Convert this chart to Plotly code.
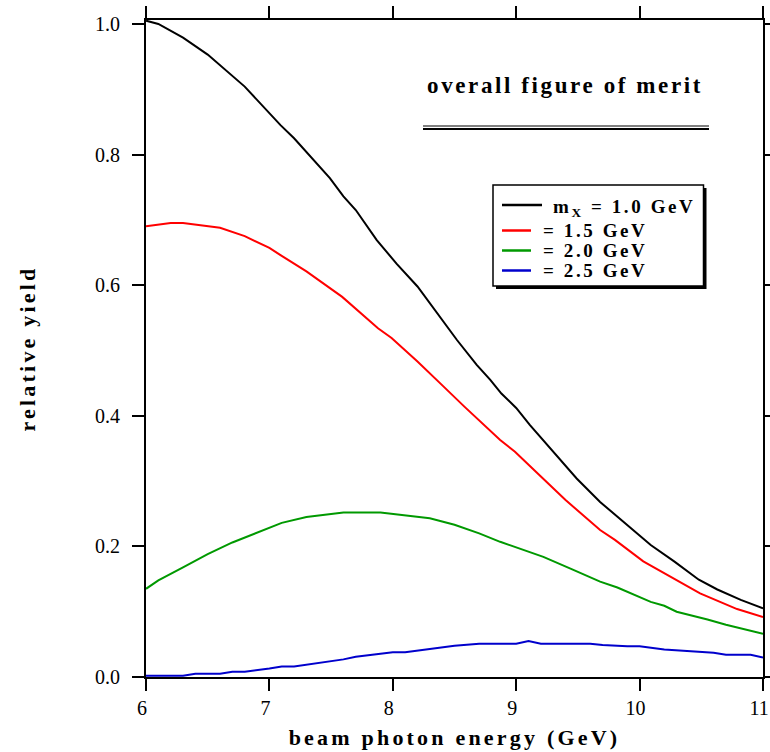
import plotly.graph_objects as go

# ---- data ----
x_black = [6.0, 6.1, 6.3, 6.5, 6.8, 7.0, 7.09, 7.2, 7.3, 7.49, 7.6, 7.7, 7.87, 8.03, 8.2, 8.36, 8.52, 8.68, 8.79, 8.88, 9.0, 9.11, 9.28, 9.49, 9.68, 9.87, 10.09, 10.28, 10.48, 10.63, 10.82, 11.0]
y_black = [1.005, 1.0, 0.979, 0.953, 0.904, 0.864, 0.845, 0.825, 0.804, 0.764, 0.736, 0.715, 0.669, 0.633, 0.598, 0.557, 0.516, 0.478, 0.455, 0.434, 0.412, 0.386, 0.350, 0.304, 0.268, 0.238, 0.202, 0.177, 0.149, 0.134, 0.118, 0.105]

x_red = [6.0, 6.2, 6.3, 6.6, 6.8, 7.0, 7.09, 7.3, 7.59, 7.88, 7.99, 8.2, 8.41, 8.58, 8.87, 8.99, 9.2, 9.4, 9.68, 9.8, 10.03, 10.2, 10.49, 10.79, 11.0]
y_red = [0.690, 0.695, 0.695, 0.688, 0.675, 0.657, 0.646, 0.621, 0.582, 0.534, 0.519, 0.483, 0.445, 0.414, 0.363, 0.345, 0.307, 0.271, 0.225, 0.210, 0.177, 0.159, 0.128, 0.104, 0.092]

x_green = [6.0, 6.1, 6.3, 6.5, 6.7, 6.9, 7.1, 7.3, 7.5, 7.6, 7.9, 8.1, 8.3, 8.5, 8.7, 8.87, 9.09, 9.22, 9.44, 9.68, 9.82, 10.09, 10.2, 10.3, 10.55, 10.7, 11.0]
y_green = [0.135, 0.148, 0.168, 0.188, 0.206, 0.221, 0.236, 0.245, 0.250, 0.252, 0.252, 0.247, 0.243, 0.233, 0.220, 0.207, 0.192, 0.184, 0.166, 0.146, 0.137, 0.115, 0.109, 0.100, 0.088, 0.080, 0.066]

x_blue = [6.0, 6.3, 6.4, 6.6, 6.7, 6.8, 7.0, 7.1, 7.2, 7.4, 7.6, 7.7, 7.9, 8.0, 8.1, 8.3, 8.5, 8.7, 9.0, 9.1, 9.2, 9.6, 9.7, 9.9, 10.0, 10.2, 10.4, 10.6, 10.7, 10.9, 11.0]
y_blue = [0.002, 0.002, 0.005, 0.005, 0.008, 0.008, 0.013, 0.016, 0.016, 0.021, 0.027, 0.031, 0.036, 0.038, 0.038, 0.043, 0.048, 0.051, 0.051, 0.055, 0.051, 0.051, 0.049, 0.047, 0.047, 0.042, 0.040, 0.037, 0.034, 0.034, 0.030]

series_names = ["m<sub>X</sub> = 1.0 GeV", "= 1.5 GeV", "= 2.0 GeV", "= 2.5 GeV"]
series_colors = ["#000000", "#ff0000", "#009900", "#0000cc"]

x_ticks = [6, 7, 8, 9, 10, 11]
y_ticks = [0.0, 0.2, 0.4, 0.6, 0.8, 1.0]
y_tick_labels = ["0.0", "0.2", "0.4", "0.6", "0.8", "1.0"]

SERIF = "Liberation Serif, Times New Roman, serif"

# plot-area geometry (pixels) for placing decorations in paper coords
W, H = 770, 752
L, R, T, B = 146, 7, 20, 75
PW, PH = W - L - R, H - T - B


def px(xp):
    return (xp - L) / PW


def py(yp):
    return (H - B - yp) / PH


fig = go.Figure()
for xs, ys, name, col in zip([x_black, x_red, x_green, x_blue],
                             [y_black, y_red, y_green, y_blue],
                             series_names, series_colors):
    fig.add_trace(go.Scatter(x=xs, y=ys, mode="lines", name=name,
                             line=dict(color=col, width=2), showlegend=False))

fig.update_layout(
    width=W, height=H,
    margin=dict(l=L, r=R, t=T, b=B),
    paper_bgcolor="white", plot_bgcolor="white",
    font=dict(family=SERIF, color="black"),
    showlegend=False,
)

fig.update_xaxes(
    range=[6, 11], tickvals=x_ticks, ticktext=[str(v) for v in x_ticks],
    showgrid=False, zeroline=False, automargin=False,
    showline=True, linecolor="black", linewidth=2, mirror="ticks",
    ticks="outside", ticklen=12, tickwidth=2, tickcolor="black",
    ticklabeloverflow="allow", ticklabelshift=-4,
    tickfont=dict(family=SERIF, size=20),
    title=dict(text="beam photon energy (GeV)", standoff=12,
               font=dict(family=SERIF, size=22, weight="bold")),
)
fig.update_yaxes(
    range=[0, 1.006], tickvals=y_ticks, ticktext=y_tick_labels,
    showgrid=False, zeroline=False, automargin=False,
    showline=True, linecolor="black", linewidth=2, mirror="ticks",
    ticks="outside", ticklen=12, tickwidth=2, tickcolor="black",
    ticklabelstandoff=8, ticklabeloverflow="allow",
    tickfont=dict(family=SERIF, size=20),
    title=dict(text="relative yield", standoff=53,
               font=dict(family=SERIF, size=22, weight="bold")),
)

# title-like label with double underline
fig.add_annotation(
    text="overall figure of merit", xref="paper", yref="paper",
    x=px(565), y=py(85), xanchor="center", yanchor="middle",
    showarrow=False, font=dict(family=SERIF, size=23, weight="bold", color="black"),
)
for ypix, w in [(126, 1.2), (129, 2)]:
    fig.add_shape(type="line", xref="paper", yref="paper",
                  x0=px(423), x1=px(709), y0=py(ypix), y1=py(ypix),
                  line=dict(color="black", width=w))

# legend box (with drop shadow)
fig.add_shape(type="rect", xref="paper", yref="paper",
              x0=px(496), x1=px(706.5), y0=py(289), y1=py(188),
              fillcolor="black", line=dict(width=0), layer="above")
fig.add_shape(type="rect", xref="paper", yref="paper",
              x0=px(493), x1=px(703.5), y0=py(286), y1=py(185),
              fillcolor="white", line=dict(color="black", width=1.5), layer="above")

legend_rows = [205, 230.5, 250.5, 270.5]
sample_end = [542, 531, 531, 531]
text_left = [551, 541, 541, 541]
text_y = [208, 230.5, 250.5, 270.5]
for name, col, yr, xe, xt, yt in zip(series_names, series_colors, legend_rows,
                                     sample_end, text_left, text_y):
    fig.add_shape(type="line", xref="paper", yref="paper",
                  x0=px(502), x1=px(xe), y0=py(yr), y1=py(yr),
                  line=dict(color=col, width=2.5), layer="above")
    fig.add_annotation(
        text=name, xref="paper", yref="paper", x=px(xt), y=py(yt),
        xanchor="left", yanchor="middle", align="left", showarrow=False,
        font=dict(family=SERIF, size=19, weight="bold", color="black"),
    )

post_js = """
var gd = document.getElementById('{plot_id}');
function spaceLetters(){
  gd.querySelectorAll('text.xtitle, text.ytitle').forEach(function(e){ e.style.letterSpacing = '3.2px'; });
  gd.querySelectorAll('text.annotation-text').forEach(function(e){ e.style.letterSpacing = '2.6px'; });
}
spaceLetters();
gd.on('plotly_afterplot', spaceLetters);
"""

fig.write_html("out.html", post_script=post_js)
